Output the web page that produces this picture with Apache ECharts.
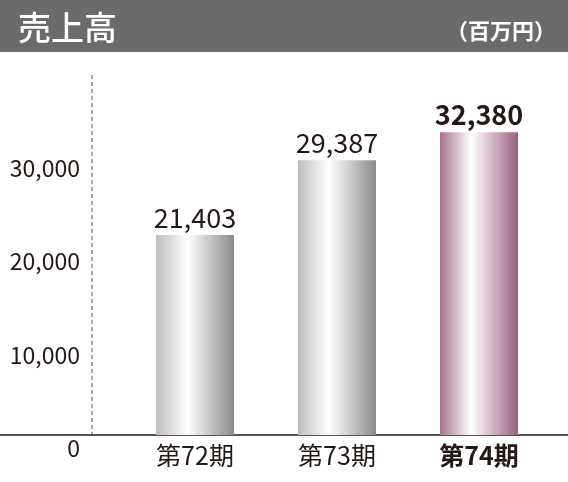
<!DOCTYPE html>
<html><head><meta charset="utf-8">
<script src="https://cdn.jsdelivr.net/npm/echarts@6/dist/echarts.min.js"></script>
<style>html,body{margin:0;padding:0;background:#fff}#c{width:568px;height:482px}</style>
</head><body><div id="c"></div>
<script>
var categories = ['第72期', '第73期', '第74期'];
var values = [21403, 29387, 32380];
var ticks = [0, 10000, 20000, 30000];

var font = '"Noto Sans CJK JP", "Noto Sans", sans-serif';
function grad(edge, mid, dark) {
    return new echarts.graphic.LinearGradient(0, 0, 1, 0, [
        {offset: 0, color: edge}, {offset: 0.4, color: mid}, {offset: 1, color: dark}
    ]);
}
var data = values.map(function (v, i) {
    var last = i == values.length - 1;
    return {
        value: v,
        itemStyle: {color: last ? grad('#a8708c', '#ffffff', '#9a5f7e') : grad('#bdbdbd', '#ffffff', '#8a8a8a')},
        label: {fontWeight: last ? 'bold' : 'normal'}
    };
});

var chart = echarts.init(document.getElementById('c'));
chart.setOption({
    animation: false,
    grid: {left: 124, right: 18, top: 61, bottom: 47},
    xAxis: {
        type: 'category', data: categories,
        axisLine: {show: false}, axisTick: {show: false},
        axisLabel: {
            interval: 0,
            fontFamily: font, fontSize: 25, color: '#231815', margin: 8,
            formatter: function (v, i) { return i == 2 ? '{b|' + v + '}' : v; },
            rich: {b: {fontFamily: font, fontSize: 25, fontWeight: 'bold', color: '#231815'}}
        }
    },
    yAxis: {
        type: 'value', min: 0, max: 40000, interval: 10000,
        splitLine: {show: false}, axisLine: {show: false}, axisTick: {show: false},
        axisLabel: {
            fontFamily: font, fontSize: 23, color: '#231815', margin: 44,
            verticalAlign: 'top', padding: [2, 0, 0, 0],
            formatter: function (v) { return v == 40000 ? '' : v.toLocaleString('en-US'); }
        }
    },
    series: [{
        type: 'bar', data: data, barWidth: 78,
        label: {
            show: true, position: 'top', distance: 4,
            fontFamily: font, fontSize: 27, color: '#231815',
            formatter: function (p) { return p.value.toLocaleString('en-US'); }
        }
    }],
    graphic: [
        {type: 'rect', shape: {x: 0, y: 0, width: 568, height: 52}, style: {fill: '#6b6b6b'}},
        {type: 'text', x: 18, y: 27, style: {text: '売上高', fill: '#fff', font: '500 33px ' + font, verticalAlign: 'middle'}},
        {type: 'text', x: 556, y: 31, style: {text: '（百万円）', fill: '#fff', font: 'bold 22px ' + font, verticalAlign: 'middle', align: 'right'}},
        {type: 'line', shape: {x1: 92, y1: 75, x2: 92, y2: 435}, style: {stroke: '#555', lineWidth: 1, lineDash: [4, 3]}},
        {type: 'line', shape: {x1: 0, y1: 435, x2: 568, y2: 435}, style: {stroke: '#231815', lineWidth: 1.5}}
    ]
});
</script>
</body></html>
